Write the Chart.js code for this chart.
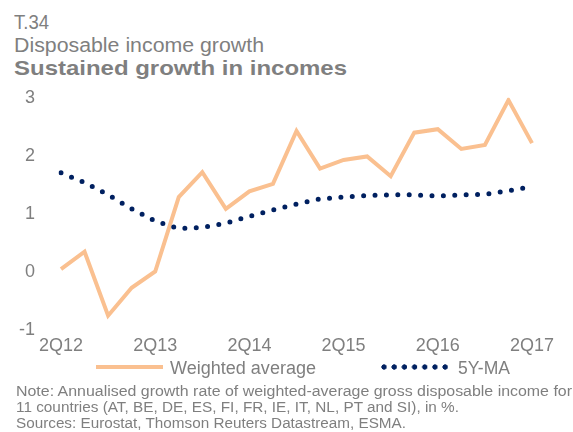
<!DOCTYPE html>
<html>
<head>
<meta charset="utf-8">
<script src="https://cdn.jsdelivr.net/npm/chart.js@4.4.1/dist/chart.umd.min.js"></script>
<style>
  body { margin: 0; background: #fff; font-family: "Liberation Sans", Arial, sans-serif; color: #7f7f7f; }
  #wrap { position: relative; width: 573px; height: 432px; overflow: hidden; }
  .txt { position: absolute; white-space: nowrap; transform-origin: 0 0; line-height: 1; }
  #chartBox { position: absolute; left: -20px; top: 61px; width: 593px; height: 306px; }
  .legLine { position: absolute; height: 4px; background: #FAC090; }
  .legDots { position: absolute; height: 6px;
    background: radial-gradient(circle at 3px 3px, #002060 2.4px, transparent 2.9px) 0 0 / 10.2px 6px repeat-x; }
</style>
</head>
<body>
<div id="wrap">
  <div class="txt" id="t1" style="left:14px; top:12px; font-size:20px;">T.34</div>
  <div class="txt" id="t2" style="left:14px; top:35px; font-size:20px;">Disposable income growth</div>
  <div class="txt" id="t3" style="left:14px; top:57px; font-size:21px; font-weight:bold;">Sustained growth in incomes</div>

  <div id="chartBox"><canvas id="chart"></canvas></div>

  <div class="legLine" style="left:96px; top:365px; width:67px;"></div>
  <div class="txt" id="l1" style="left:170px; top:359px; font-size:18px;">Weighted average</div>
  <div class="legDots" style="left:381px; top:364px; width:68px;"></div>
  <div class="txt" id="l2" style="left:458px; top:359px; font-size:18px;">5Y-MA</div>

  <div class="txt" id="n1" style="left:16px; top:384px; font-size:14px;">Note: Annualised growth rate of weighted-average gross disposable income for</div>
  <div class="txt" id="n2" style="left:16px; top:400px; font-size:14px;">11 countries (AT, BE, DE, ES, FI, FR, IE, IT, NL, PT and SI), in %.</div>
  <div class="txt" id="n3" style="left:16px; top:416px; font-size:14px;">Sources: Eurostat, Thomson Reuters Datastream, ESMA.</div>
</div>

<script>
// quarters 2Q12 .. 2Q17
const quarters = ["2Q12","3Q12","4Q12","1Q13","2Q13","3Q13","4Q13","1Q14","2Q14","3Q14","4Q14",
                  "1Q15","2Q15","3Q15","4Q15","1Q16","2Q16","3Q16","4Q16","1Q17","2Q17"];
const tickLabels = ["2Q12","2Q13","2Q14","2Q15","2Q16","2Q17"];

const weightedAverage = [0.05, 0.35, -0.75, -0.27, 0.01, 1.29, 1.72, 1.09, 1.39, 1.52, 2.43,
                         1.78, 1.93, 1.99, 1.65, 2.40, 2.46, 2.12, 2.19, 2.96, 2.22];
const fiveYearMA = [1.71, 1.54, 1.33, 1.09, 0.88, 0.75, 0.77, 0.84, 0.96, 1.07, 1.17,
                    1.26, 1.29, 1.32, 1.33, 1.33, 1.31, 1.33, 1.34, 1.40, 1.47];

const yTicks = [-1, 0, 1, 2, 3];

// stretch text lines to the widths in the reference
function fitWidth(id, w) {
    const el = document.getElementById(id);
    const cur = el.getBoundingClientRect().width;
    el.style.transform = "scaleX(" + (w / cur) + ")";
}
fitWidth("t1", 35);
fitWidth("t2", 250);
fitWidth("t3", 333);
fitWidth("l1", 146);
fitWidth("l2", 52);
fitWidth("n1", 556);
fitWidth("n2", 443);
fitWidth("n3", 390);

const fontFam = '"Liberation Sans", Arial, sans-serif';

new Chart(document.getElementById("chart"), {
    type: "line",
    data: {
        labels: quarters,
        datasets: [
            {
                label: "5Y-MA",
                data: fiveYearMA,
                borderColor: "#002060",
                borderWidth: 5,
                borderDash: [0, 11.4],
                borderCapStyle: "round",
                pointRadius: 0,
                fill: false
            },
            {
                label: "Weighted average",
                data: weightedAverage,
                borderColor: "#FAC090",
                borderWidth: 4,
                pointRadius: 0,
                fill: false
            }
        ]
    },
    options: {
        responsive: true,
        maintainAspectRatio: false,
        animation: false,
        layout: { padding: { left: 13, top: 26, right: 41, bottom: 3 } },
        plugins: {
            legend: { display: false },
            tooltip: { enabled: false }
        },
        scales: {
            x: {
                grid: { display: false, drawTicks: false },
                border: { display: false },
                ticks: {
                    autoSkip: false,
                    maxRotation: 0,
                    minRotation: 0,
                    padding: 5,
                    color: "#7f7f7f",
                    font: { family: fontFam, size: 18 },
                    callback: function (v, i) {
                        const q = quarters[i];
                        return tickLabels.includes(q) ? q : "";
                    }
                }
            },
            y: {
                min: yTicks[0],
                max: yTicks[yTicks.length - 1],
                grid: { display: false, drawTicks: false },
                border: { display: false },
                afterBuildTicks: axis => { axis.ticks = yTicks.map(v => ({ value: v })); },
                ticks: {
                    padding: 26,
                    color: "#7f7f7f",
                    font: { family: fontFam, size: 18 }
                }
            }
        }
    }
});
</script>
</body>
</html>
